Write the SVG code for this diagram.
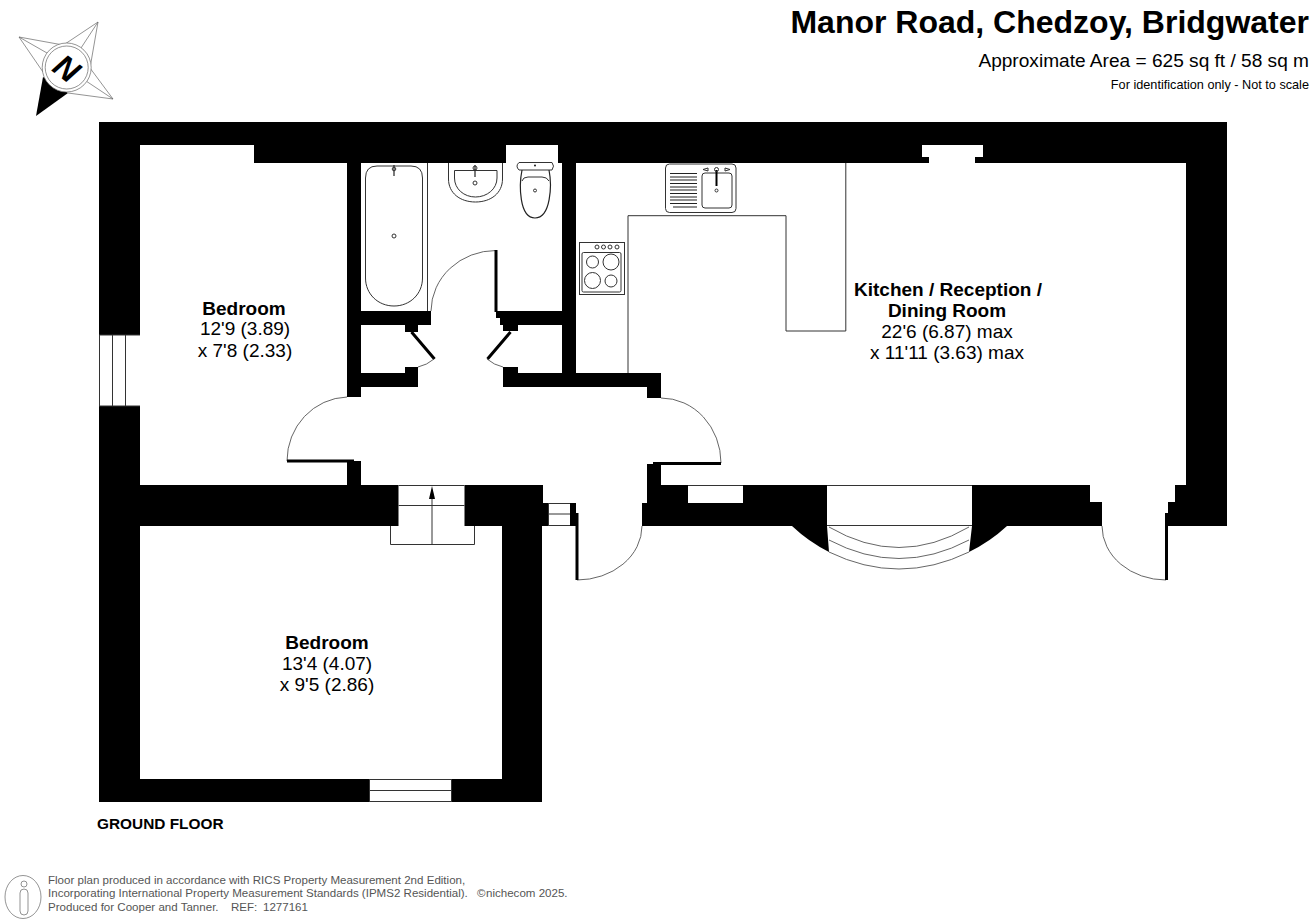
<svg xmlns="http://www.w3.org/2000/svg" width="1312" height="920" viewBox="0 0 1312 920">
<style>
text{font-family:"Liberation Sans",Arial,sans-serif;fill:#000}
.t{font-size:19px;text-anchor:middle}
.b{font-weight:bold}
.f{font-size:11.55px;fill:#555}
.w{fill:#fff;stroke:none}
.k{fill:#000;stroke:none}
.l{fill:none;stroke:#333;stroke-width:1}
.m{fill:none;stroke:#222;stroke-width:1.2}
.a{fill:none;stroke:#555;stroke-width:.9}
.d{fill:none;stroke:#000;stroke-width:3}
.g{fill:none;stroke:#666;stroke-width:.7}
</style>
<rect width="1312" height="920" fill="#fff"/>

<!-- walls -->
<g id="walls">
<rect class="k" x="99" y="122" width="1128" height="404"/>
<rect class="k" x="99" y="526" width="443" height="276"/>
<path class="k" d="M792 526A156 156 0 0 0 829 552L827 526ZM1007 526A156 156 0 0 1 969 552L972 526Z"/>
</g>

<!-- rooms -->
<g id="rooms">
<path class="w" d="M140 145H254V163H347V485H140Z"/>
<rect class="w" x="140" y="526" width="362" height="253"/>
<rect class="w" x="361" y="163" width="201" height="148"/>
<rect class="w" x="506" y="145" width="52" height="18"/>
<path class="w" d="M431 311H496V318H500V325H503V331H518V367H503V387H418V367H405V332H418V325H431Z"/>
<rect class="w" x="361" y="325" width="44" height="48"/>
<rect class="w" x="518" y="325" width="44" height="48"/>
<rect class="w" x="361" y="387" width="286" height="98"/>
<rect class="w" x="347" y="397" width="15" height="64"/>
<rect class="w" x="646" y="398" width="16" height="66"/>
<path class="w" d="M543 485H647V503H642V526H578V513H576V503H543Z"/>
<path class="w" d="M576 163H929V157H922V145H983V157H975V163H1186V485H1175V502H1168V513H1165V526H1102V502H1090V485H661V373H576Z"/>
<rect class="w" x="688" y="485" width="55" height="18"/>
<rect class="w" x="827" y="485" width="145" height="40"/>
<rect class="w" x="398.500" y="485" width="66" height="41"/>
<rect class="w" x="369" y="779" width="83" height="23"/>
<rect class="w" x="548" y="503" width="22" height="23"/>
<rect class="w" x="99" y="335" width="41" height="71"/>
</g>

<!-- windows and lines -->
<g id="windows">
<path class="l" d="M99 335H140M99 406H140M112.500 335V406M125.500 335V406M99.500 335V406"/>
<path class="l" d="M369 779.500H452M369 790.500H452M369 801.500H452M369.500 779V802M451.500 779V802"/>
<path class="l" d="M548 503.500H570M548 514H570M548 525.500H570M548.500 503V526"/>
<path class="l" d="M688 485.500H743M827 485.500H972M827 525.500H972"/>
<path class="a" d="M829 527Q899 568 969 527M829 540Q899 577 969 540M829 552Q899 586 969 552"/>
</g>

<!-- stairs -->
<g id="stairs">
<path class="l" d="M398.500 485.500H464.500M398.500 505.500H464.500M390.500 526V544.500H474.500V526M432 496V544.500"/>
<path class="k" d="M432 486L435 499H429Z"/>
</g>

<!-- doors -->
<g id="doors">
<path class="a" d="M347 397A62 64 0 0 0 287 461"/>
<path class="d" d="M287 461H354"/>
<path class="a" d="M661 398A60 65 0 0 1 721 463"/>
<path class="d" d="M653 463.500H721"/>
<path class="a" d="M642 526A65 54 0 0 1 577 580"/>
<path class="d" d="M577 513V580"/>
<path class="a" d="M1102 526A64 54 0 0 0 1166 580"/>
<path class="d" d="M1166.500 513V580"/>
<path class="a" d="M431 311A65 61 0 0 1 496 250.500"/>
<path class="d" d="M496 250V312"/>
<path class="d" d="M411.500 332L434.500 359M510.500 332L487.500 359"/>
<path class="a" d="M434 359Q427 365 418 367M487 359Q494 365 503 367"/>
</g>

<!-- bathroom fittings -->
<g id="bathroom">
<path class="l" d="M427.500 163V311"/>
<path class="l" d="M377 166H411Q422.500 166 422.500 178V278C422.500 294 410 306 394 306C378 306 365.500 294 365.500 278V178Q365.500 166 377 166Z"/>
<circle class="l" cx="394" cy="236" r="2"/>
<path class="m" d="M394 165V176"/><circle class="l" cx="394" cy="169" r="1.800"/>
<path class="l" d="M448.500 163V179C448.500 193 460 202 475.500 202C491 202 502.500 193 502.500 179V163"/>
<path class="l" d="M454.500 170.500H497V178C497 189 487 197 475.500 197C464 197 454.500 189 454.500 178Z"/>
<path class="m" d="M475 165V177"/><circle class="l" cx="475" cy="168" r="2"/><circle class="l" cx="475" cy="183" r="2"/>
<path class="l" d="M519 162.500H552Q555 166 552 170H519Q515 166 519 162.500Z"/>
<circle class="k" cx="535" cy="165.500" r=".9"/>
<path class="m" d="M522 170C519 185 519 218 535 218C551 218 552 185 549 170"/>
<path class="l" d="M522 181Q523 177 528 177H542Q547 177 549 181"/>
<circle class="l" cx="535" cy="190.500" r="1.500"/>
</g>

<!-- kitchen fittings -->
<g id="kitchen">
<path class="l" d="M845.800 163V331H786V215.700H628V373"/>
<rect class="l" x="665.500" y="164" width="70.500" height="48.500" rx="4"/>
<path class="m" d="M670 173.500H697M670 177H697M670 180H697M670 183.500H697M670 187H697M670 190H697M670 193.500H697M670 197H697M670 200H697M670 203.500H697M673 207H697"/>
<rect class="l" x="702" y="173" width="30" height="35" rx="3"/>
<path class="d" d="M716.500 170V186" style="stroke-width:2"/>
<circle class="l" cx="716.500" cy="169.500" r="2"/><circle class="l" cx="716.500" cy="190.500" r="1.500"/>
<path class="l" d="M703 169.500L708 168V171ZM730 169.500L725 168V171Z"/>
<rect class="l" x="579.500" y="242.500" width="45" height="52"/>
<rect class="l" x="582" y="252.500" width="39" height="39.500" rx="1.500"/>
<circle class="l" cx="597" cy="247" r="2"/><circle class="l" cx="603.500" cy="247" r="2"/><circle class="l" cx="610" cy="247" r="2"/><circle class="l" cx="617" cy="247" r="2"/>
<circle class="l" cx="592.500" cy="262" r="6"/><circle class="l" cx="611" cy="262" r="8"/><circle class="l" cx="592.500" cy="280.500" r="8"/><circle class="l" cx="611" cy="281" r="6"/>
</g>

<!-- compass -->
<g id="compass">
<path class="g" d="M65 44L98 22L90 68L113 99L68 93M63 45L19 37L43 72M19 37L47 53M98 22L81 48M113 99L86 81"/>
<path class="k" d="M43 77L68 93L36 116Z"/>
<circle fill="#fff" stroke="#666" stroke-width=".7" cx="66.700" cy="67.500" r="24.500"/>
<circle class="g" cx="66.700" cy="67.500" r="21.500"/>
<text x="67" y="68" font-size="32" font-weight="bold" font-style="italic" text-anchor="middle" transform="rotate(37 67 68)" dy="11.500">N</text>
</g>

<!-- title -->
<g id="title">
<text x="1309" y="33" font-size="32" class="b" text-anchor="end">Manor Road, Chedzoy, Bridgwater</text>
<text x="1309" y="67" font-size="19.100" text-anchor="end">Approximate Area = 625 sq ft / 58 sq m</text>
<text x="1309" y="89" font-size="12.700" text-anchor="end">For identification only - Not to scale</text>
</g>

<!-- room labels -->
<g id="label-bedroom-1">
<text x="244" y="315" class="t b">Bedroom</text>
<text x="245" y="335" class="t">12'9 (3.89)</text>
<text x="245" y="357" class="t">x 7'8 (2.33)</text>
</g>
<g id="label-bedroom-2">
<text x="327" y="649" class="t b">Bedroom</text>
<text x="327" y="670" class="t">13'4 (4.07)</text>
<text x="327" y="691" class="t">x 9'5 (2.86)</text>
</g>
<g id="label-kitchen">
<text x="948" y="296" class="t b">Kitchen / Reception /</text>
<text x="947" y="317" class="t b">Dining Room</text>
<text x="947" y="338" class="t">22'6 (6.87) max</text>
<text x="947" y="359" class="t">x 11'11 (3.63) max</text>
</g>
<text x="97" y="829" font-size="15.400" class="b">GROUND FLOOR</text>

<!-- footer -->
<g id="footer">
<ellipse class="g" cx="23" cy="897" rx="18" ry="21.500"/>
<circle class="g" cx="24" cy="884" r="3"/>
<rect class="g" x="20" y="889" width="8" height="26" rx="4"/>
<text x="48" y="884" class="f">Floor plan produced in accordance with RICS Property Measurement 2nd Edition,</text>
<text x="48" y="897" class="f">Incorporating International Property Measurement Standards (IPMS2 Residential).</text>
<text x="477" y="897" class="f">©</text>
<text x="486" y="897" class="f">nichecom 2025.</text>
<text x="48" y="911" class="f">Produced for Cooper and Tanner.</text>
<text x="231" y="911" class="f">REF:</text>
<text x="263" y="911" class="f">1277161</text>
</g>
</svg>
